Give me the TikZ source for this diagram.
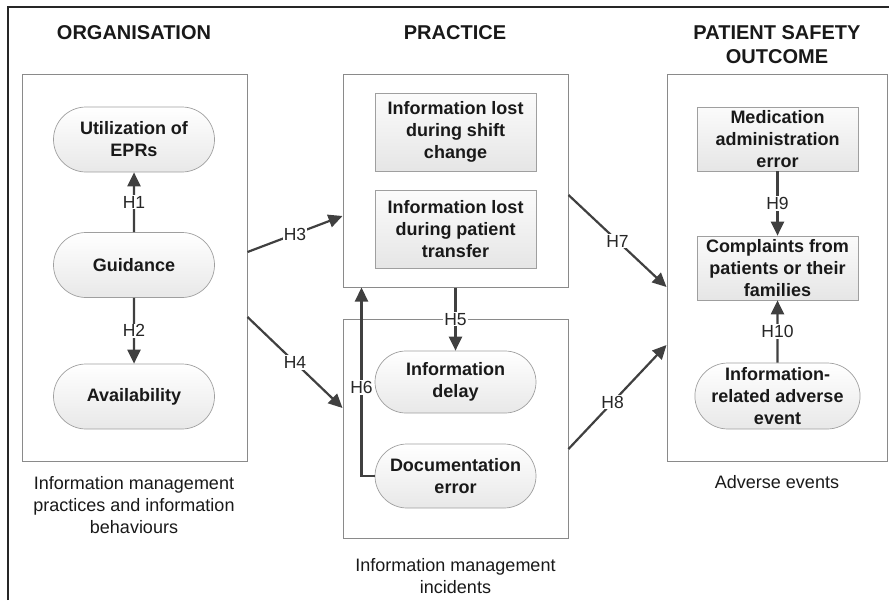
\documentclass[tikz,border=0pt]{standalone}
\usepackage{fontspec}
\setmainfont{Liberation Sans}
\usetikzlibrary{shapes.misc,arrows.meta,calc}
\definecolor{arrowgray}{HTML}{404040}
\definecolor{boxgray}{HTML}{8A8A8A}
\begin{document}
\begin{tikzpicture}[x=1pt,y=-1pt,
  groupbox/.style={draw=boxgray,line width=1pt,rectangle,inner sep=0pt,minimum width=225pt},
  pill/.style={rounded rectangle,draw=gray!75,line width=0.7pt,top color=white,bottom color=gray!18,
     minimum width=161pt,minimum height=65pt,inner sep=0pt,align=center,
     font=\bfseries\fontsize{18}{22}\selectfont,text=black!90},
  recbox/.style={rectangle,draw=gray!75,line width=0.7pt,top color=gray!3,bottom color=gray!20,
     minimum width=161pt,inner sep=0pt,align=center,
     font=\bfseries\fontsize{18}{22}\selectfont,text=black!90},
  title/.style={align=center,font=\bfseries\fontsize{20}{24}\selectfont,text=black!90},
  caption/.style={align=center,font=\fontsize{18}{22}\selectfont,text=black!90},
  hyp/.style={draw=arrowgray,line width=2.2pt,-{Triangle[length=14pt,width=13pt]}},
  hlab/.style={fill=white,inner sep=1pt,font=\fontsize{17.5}{20}\selectfont,text=black!85}
]
\useasboundingbox (0,0) rectangle (889,600);
% outer frame (top and left edges)
\draw[line width=1.5pt,black!85] (8,600) -- (8,7) -- (889,7);

% titles
\node[title] (t1) at (134,33) {ORGANISATION};
\node[title] (t2) at (455,33) {PRACTICE};
\node[title] (t3) at (777,45) {PATIENT SAFETY\\OUTCOME};

% group boxes
\node[groupbox,minimum height=387pt] (orgbox) at (134.5,267.5) {};
\node[groupbox,minimum height=213pt] (pracup) at (455.5,180.5) {};
\node[groupbox,minimum height=219pt] (praclow) at (455.5,428.5) {};
\node[groupbox,minimum width=220pt,minimum height=387pt] (outbox) at (777,267.5) {};

% organisation
\node[pill] (epr) at (134,139.5) {Utilization of\\EPRs};
\node[pill] (guid) at (134,265) {Guidance};
\node[pill] (avail) at (134,396.5) {Availability};

% practice
\node[recbox,minimum height=78pt] (shift) at (455.5,132) {Information lost\\during shift\\change};
\node[recbox,minimum height=78pt] (transfer) at (455.5,229) {Information lost\\during patient\\transfer};
\node[pill,minimum height=62pt] (delay) at (455.5,382) {Information\\delay};
\node[pill,minimum height=64pt] (docerr) at (455.5,476) {Documentation\\error};

% outcome
\node[recbox,minimum height=64pt] (med) at (777.5,139) {Medication\\administration\\error};
\node[recbox,minimum height=64pt] (compl) at (777.5,268) {Complaints from\\patients or their\\families};
\node[pill,minimum height=66pt] (adverse) at (777.5,396) {Information-\\related adverse\\event};

% captions
\node[caption] (c1) at (134,505) {Information management\\practices and information\\behaviours};
\node[caption] (c2) at (455.5,576.5) {Information management\\incidents};
\node[caption] (c3) at (777,482) {Adverse events};

% hypotheses
\draw[hyp] (guid) -- node[hlab]{H1} (epr);
\draw[hyp] (guid) -- node[hlab]{H2} (avail);
\draw[hyp] ([yshift=15.5pt]orgbox.east) -- node[hlab]{H3} ([yshift=-35.5pt]pracup.west);
\draw[hyp] ([yshift=-49.5pt]orgbox.east) -- node[hlab]{H4} ([yshift=20.5pt]praclow.west);
\draw[hyp] (pracup.south) -- node[hlab]{H5} (delay.north);
\coordinate (h6corner) at ($(pracup.south west)+(19,0)$);
\draw[hyp] (docerr.west) -- (docerr.west -| h6corner) -- node[hlab,pos=0.47]{H6} (h6corner);
\draw[hyp] ([yshift=-14.5pt]pracup.east) -- node[hlab]{H7} ([yshift=-19.5pt]outbox.west);
\draw[hyp] ([yshift=-20.5pt]praclow.east) -- node[hlab,pos=0.45]{H8} ([yshift=-77.5pt]outbox.west);
\draw[hyp] (med) -- node[hlab]{H9} (compl);
\draw[hyp] (adverse) -- node[hlab]{H10} (compl);
\end{tikzpicture}
\end{document}
